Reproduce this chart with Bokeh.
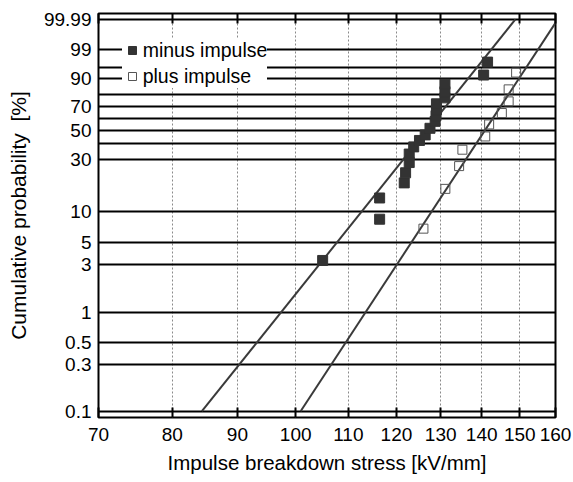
import numpy as np
from bokeh.plotting import figure
from bokeh.models import (Range1d, FixedTicker, LogAxis, Legend, LegendItem,
                          NumeralTickFormatter)
from bokeh.embed import file_html
from bokeh.resources import INLINE

# ---- data ----
minus_kv = [105.0, 116.4, 116.4, 121.7, 122.0, 122.8, 122.8, 123.8, 125.1, 126.4,
            127.5, 128.7, 128.9, 129.0, 129.0, 131.0, 131.0, 131.0, 140.5, 141.5]
minus_pct = [3.3, 8.4, 13.4, 18.5, 22.8, 28.0, 33.0, 37.7, 42.3, 46.5,
             51.8, 57.6, 62.5, 67.5, 72.5, 77.3, 82.0, 87.0, 92.0, 96.7]

plus_kv = [126.0, 131.1, 134.4, 135.2, 140.9, 141.9, 145.2, 147.0, 147.0, 149.0]
plus_pct = [6.8, 16.3, 26.1, 35.8, 45.3, 55.0, 64.7, 74.5, 83.6, 93.1]

minus_fit_kv = [84.4, 148.8]
minus_fit_pct = [0.1, 99.99]
plus_fit_kv = [100.9, 160.0]
plus_fit_pct = [0.1, 99.98]

x_ticks = [70, 80, 90, 100, 110, 120, 130, 140, 150, 160]
y_tick_pct = [0.1, 0.3, 0.5, 1, 3, 5, 10, 30, 50, 70, 90, 99, 99.99]
y_tick_labels = ["0.1", "0.3", "0.5", "1", "3", "5", "10", "30", "50", "70",
                 "90", "99", "99.99"]
y_grid_pct = [0.1, 0.3, 0.5, 1, 3, 5, 10, 30, 40, 50, 60, 70, 80, 90, 95, 99, 99.99]


def wb(pct):
    """Weibull probability-paper transform."""
    return np.log(-np.log(1.0 - np.asarray(pct, dtype=float) / 100.0))


FONT = "Liberation Sans"

p = figure(width=573, height=482, x_axis_type="log",
           x_range=Range1d(70, 160), y_range=Range1d(-7.054, 2.360),
           output_backend="svg", toolbar_location=None,
           min_border_left=98, min_border_right=18,
           min_border_top=13, min_border_bottom=65)
p.background_fill_color = "white"
p.border_fill_color = "white"
p.outline_line_color = "black"
p.outline_line_width = 2

# grids
p.xgrid.ticker = FixedTicker(ticks=x_ticks[1:-1])
p.xgrid.grid_line_color = "#8a8a8a"
p.xgrid.grid_line_width = 1
p.xgrid.grid_line_dash = "2 2"
p.ygrid.ticker = FixedTicker(ticks=[float(v) for v in wb(y_grid_pct)])
p.ygrid.grid_line_color = "black"
p.ygrid.grid_line_width = 2

# bottom axis
xa = p.xaxis[0]
xa.ticker = FixedTicker(ticks=x_ticks)
xa.formatter = NumeralTickFormatter(format="0")
xa.major_tick_in = 10
xa.major_tick_out = 0
xa.major_tick_line_width = 2
xa.major_tick_line_color = "black"
xa.minor_tick_line_color = None
xa.axis_line_color = None
xa.major_label_text_font = FONT
xa.major_label_text_font_size = "19px"
xa.major_label_text_color = "black"
xa.major_label_standoff = 10
xa.axis_label = "Impulse breakdown stress [kV/mm]"
xa.axis_label_text_font = FONT
xa.axis_label_text_font_size = "20.5px"
xa.axis_label_text_font_style = "normal"
xa.axis_label_text_color = "black"
xa.axis_label_standoff = 7

# top axis (ticks only)
ta = LogAxis(ticker=FixedTicker(ticks=x_ticks), major_tick_in=10, major_tick_out=0,
             major_tick_line_width=2, major_tick_line_color="black",
             minor_tick_line_color=None, axis_line_color=None,
             major_label_text_font_size="0px", major_label_text_alpha=0,
             major_label_standoff=0)
p.add_layout(ta, "above")

# left axis
ya = p.yaxis[0]
ytv = [float(v) for v in wb(y_tick_pct)]
ya.ticker = FixedTicker(ticks=ytv)
ya.major_label_overrides = {v: lab for v, lab in zip(ytv, y_tick_labels)}
ya.major_tick_in = 0
ya.major_tick_out = 0
ya.minor_tick_line_color = None
ya.axis_line_color = None
ya.major_label_text_font = FONT
ya.major_label_text_font_size = "19px"
ya.major_label_text_color = "black"
ya.major_label_standoff = 7
ya.axis_label = "Cumulative probability \u00a0[%]"
ya.axis_label_text_font = FONT
ya.axis_label_text_font_size = "21px"
ya.axis_label_text_font_style = "normal"
ya.axis_label_text_color = "black"
ya.axis_label_standoff = 11

# fit lines
p.line(minus_fit_kv, wb(minus_fit_pct), line_color="#3a3a3a", line_width=2)
p.line(plus_fit_kv, wb(plus_fit_pct), line_color="#3a3a3a", line_width=2)

# data points
r_minus = p.scatter(minus_kv, wb(minus_pct), marker="square", size=10,
                    fill_color="#333333", line_color="#333333")
r_plus = p.scatter(plus_kv, wb(plus_pct), marker="square", size=9,
                   fill_color="white", fill_alpha=0, line_color="#555555", line_width=1)

legend = Legend(items=[LegendItem(label="minus impulse", renderers=[r_minus]),
                       LegendItem(label="plus impulse", renderers=[r_plus])],
                location=(23.7, 329.5), padding=0, margin=0, spacing=3,
                glyph_width=20, glyph_height=20, label_height=20,
                label_standoff=1, background_fill_color="white",
                background_fill_alpha=1, border_line_color=None,
                label_text_font=FONT, label_text_font_size="19.5px",
                label_text_color="black")
p.add_layout(legend)

open("out.html", "w").write(file_html(p, INLINE))
